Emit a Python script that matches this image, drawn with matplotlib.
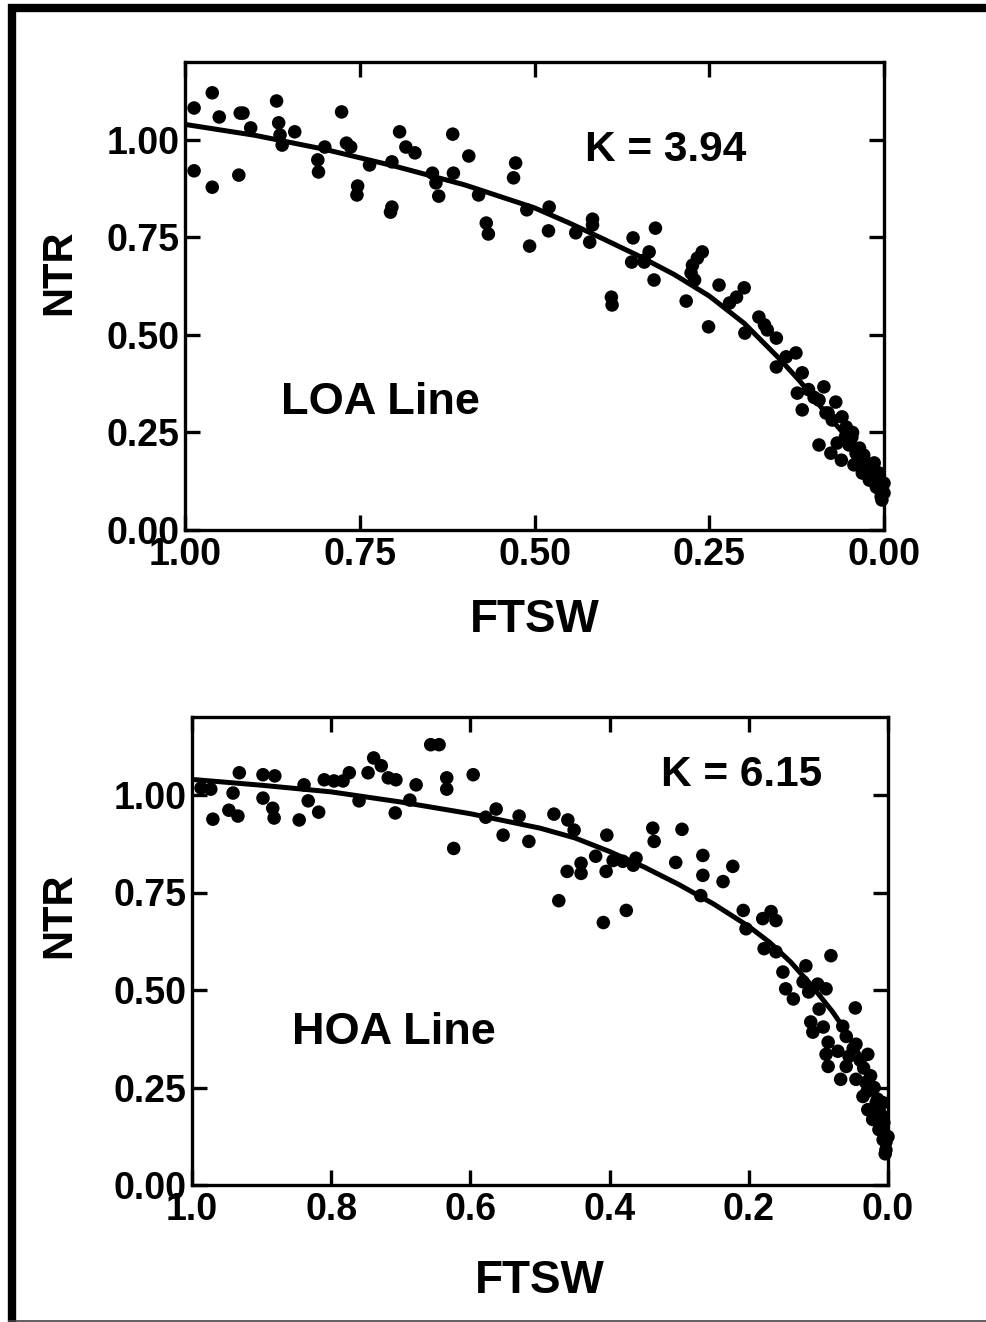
import matplotlib
matplotlib.use("Agg")
import matplotlib.pyplot as plt
from matplotlib.lines import Line2D

plt.rcParams['font.family'] = ['Liberation Sans', 'DejaVu Sans']
plt.rcParams['font.weight'] = 'bold'

# ---------------- data: LOA line (top panel) ----------------
loa_ftsw = [0.987, 0.961, 0.951, 0.921, 0.917, 0.906, 0.869, 0.866, 0.843, 0.864, 0.861,
            0.987, 0.961, 0.923, 0.800, 0.810, 0.809, 0.776, 0.769, 0.763, 0.753, 0.754,
            0.736, 0.704, 0.704, 0.706, 0.693, 0.684, 0.671, 0.617, 0.594, 0.646, 0.641,
            0.637, 0.616, 0.580, 0.569, 0.566, 0.527, 0.530, 0.511, 0.507, 0.479, 0.480,
            0.441, 0.417, 0.417, 0.421, 0.359, 0.361, 0.343, 0.390, 0.389, 0.327, 0.336,
            0.343, 0.329, 0.260, 0.267, 0.274, 0.276, 0.271, 0.283, 0.236, 0.251, 0.200,
            0.211, 0.221, 0.199, 0.179, 0.171, 0.167, 0.154, 0.126, 0.140, 0.154, 0.117,
            0.124, 0.086, 0.117, 0.093, 0.069, 0.083, 0.074, 0.060, 0.093, 0.076, 0.061,
            0.067, 0.054, 0.046, 0.040, 0.036, 0.026, 0.017, 0.007, 0.003, 0.000, 0.004,
            0.011, 0.021, 0.031, 0.017, 0.007, 0.000, 0.003, 0.050, 0.029, 0.014, 0.043,
            0.045, 0.035, 0.030, 0.025, 0.020, 0.015, 0.010, 0.008, 0.005, 0.012, 0.055,
            0.048, 0.038, 0.108, 0.100, 0.080]
loa_ntr = [1.082, 1.121, 1.059, 1.069, 1.069, 1.031, 1.100, 1.044, 1.021, 1.013, 0.987,
           0.921, 0.879, 0.910, 0.982, 0.949, 0.918, 1.072, 0.992, 0.982, 0.882, 0.859,
           0.936, 0.944, 0.828, 0.815, 1.021, 0.982, 0.967, 1.015, 0.959, 0.915, 0.890,
           0.856, 0.915, 0.859, 0.787, 0.759, 0.941, 0.903, 0.821, 0.728, 0.828, 0.767,
           0.762, 0.797, 0.782, 0.738, 0.749, 0.687, 0.692, 0.597, 0.577, 0.774, 0.713,
           0.687, 0.641, 0.713, 0.697, 0.679, 0.659, 0.641, 0.587, 0.628, 0.521, 0.621,
           0.597, 0.582, 0.505, 0.546, 0.526, 0.513, 0.492, 0.454, 0.444, 0.418, 0.403,
           0.351, 0.367, 0.308, 0.333, 0.328, 0.300, 0.282, 0.290, 0.218, 0.197, 0.179,
           0.223, 0.264, 0.238, 0.197, 0.172, 0.154, 0.136, 0.128, 0.110, 0.095, 0.085,
           0.110, 0.128, 0.146, 0.162, 0.146, 0.120, 0.077, 0.218, 0.192, 0.172, 0.167,
           0.250, 0.210, 0.185, 0.170, 0.160, 0.140, 0.130, 0.115, 0.100, 0.150, 0.240,
           0.220, 0.190, 0.360, 0.340, 0.300]
loa_fit_ftsw = [1.00, 0.90, 0.80, 0.70, 0.60, 0.50, 0.45, 0.40, 0.35, 0.30, 0.25,
                0.20, 0.15, 0.12, 0.09, 0.06, 0.04, 0.02, 0.00]
loa_fit_ntr = [1.040, 1.012, 0.976, 0.933, 0.885, 0.826, 0.787, 0.745, 0.702, 0.655,
               0.600, 0.530, 0.440, 0.381, 0.315, 0.252, 0.200, 0.148, 0.095]

# ---------------- data: HOA line (bottom panel) ----------------
hoa_ftsw = [0.987, 0.973, 0.932, 0.941, 0.970, 0.947, 0.934, 0.898, 0.881, 0.898, 0.884,
            0.882, 0.846, 0.839, 0.833, 0.818, 0.810, 0.796, 0.783, 0.774, 0.760, 0.747,
            0.739, 0.728, 0.718, 0.707, 0.708, 0.687, 0.678, 0.657, 0.645, 0.634, 0.634,
            0.596, 0.624, 0.578, 0.563, 0.553, 0.530, 0.516, 0.480, 0.460, 0.451, 0.404,
            0.420, 0.441, 0.461, 0.441, 0.405, 0.395, 0.381, 0.366, 0.362, 0.473, 0.376,
            0.409, 0.338, 0.336, 0.296, 0.266, 0.266, 0.305, 0.237, 0.223, 0.269, 0.208,
            0.180, 0.168, 0.161, 0.204, 0.178, 0.161, 0.082, 0.118, 0.151, 0.122, 0.114,
            0.101, 0.089, 0.147, 0.136, 0.047, 0.099, 0.111, 0.108, 0.093, 0.086, 0.065,
            0.060, 0.046, 0.029, 0.089, 0.086, 0.072, 0.056, 0.060, 0.068, 0.046, 0.032,
            0.036, 0.029, 0.022, 0.013, 0.007, 0.003, 0.013, 0.017, 0.006, 0.000, 0.004,
            0.007, 0.020, 0.015, 0.010, 0.008, 0.005, 0.003, 0.025, 0.035, 0.040, 0.050,
            0.030]
hoa_ntr = [1.018, 1.015, 1.057, 1.005, 0.938, 0.961, 0.946, 1.052, 1.049, 0.992, 0.966,
           0.941, 0.936, 1.026, 0.985, 0.956, 1.039, 1.036, 1.036, 1.057, 0.985, 1.057,
           1.095, 1.075, 1.044, 1.039, 0.954, 0.987, 1.026, 1.129, 1.129, 1.044, 1.015,
           1.052, 0.863, 0.943, 0.964, 0.897, 0.946, 0.881, 0.951, 0.936, 0.910, 0.897,
           0.843, 0.825, 0.804, 0.799, 0.804, 0.832, 0.830, 0.820, 0.838, 0.729, 0.704,
           0.673, 0.915, 0.881, 0.912, 0.845, 0.794, 0.827, 0.778, 0.817, 0.742, 0.704,
           0.683, 0.701, 0.678, 0.657, 0.606, 0.598, 0.588, 0.562, 0.546, 0.521, 0.495,
           0.515, 0.503, 0.503, 0.477, 0.454, 0.451, 0.418, 0.392, 0.405, 0.366, 0.407,
           0.381, 0.361, 0.335, 0.335, 0.304, 0.343, 0.330, 0.304, 0.271, 0.271, 0.263,
           0.227, 0.193, 0.168, 0.142, 0.116, 0.090, 0.193, 0.211, 0.160, 0.124, 0.080,
           0.211, 0.250, 0.220, 0.180, 0.160, 0.130, 0.110, 0.280, 0.300, 0.320, 0.350,
           0.240]
hoa_fit_ftsw = [1.00, 0.90, 0.80, 0.70, 0.60, 0.50, 0.45, 0.40, 0.35, 0.30, 0.25,
                0.20, 0.17, 0.14, 0.11, 0.08, 0.06, 0.04, 0.025, 0.012, 0.004, 0.0]
hoa_fit_ntr = [1.040, 1.025, 1.008, 0.982, 0.952, 0.915, 0.890, 0.855, 0.815, 0.770,
               0.720, 0.663, 0.622, 0.572, 0.512, 0.445, 0.393, 0.330, 0.275, 0.212,
               0.150, 0.085]

yticks = [0.0, 0.25, 0.5, 0.75, 1.0]
ytick_labels = ['0.00', '0.25', '0.50', '0.75', '1.00']
top_xticks = [1.0, 0.75, 0.5, 0.25, 0.0]
top_xtick_labels = ['1.00', '0.75', '0.50', '0.25', '0.00']
bot_xticks = [1.0, 0.8, 0.6, 0.4, 0.2, 0.0]
bot_xtick_labels = ['1.0', '0.8', '0.6', '0.4', '0.2', '0.0']

W, H = 986, 1322
fig = plt.figure(figsize=(W / 100, H / 100), dpi=100)
fig.patch.set_facecolor('white')


def px_axes(l, t, r, b):
    return fig.add_axes([l / W, 1 - b / H, (r - l) / W, (b - t) / H])


def style(ax, xt, xtl, label_text, k_text, k_pos, lab_pos, ylab_x, ylab_y, xlab_y):
    ax.set_xlim(1.0, 0.0)
    ax.set_ylim(0.0, 1.2)
    ax.set_xticks(xt)
    ax.set_xticklabels(xtl)
    ax.set_yticks(yticks)
    ax.set_yticklabels(ytick_labels)
    for s in ax.spines.values():
        s.set_linewidth(2.4)
    ax.tick_params(direction='in', length=11, width=2.4, top=True, right=True,
                   labelsize=27, pad=4)
    ax.tick_params(axis='x', pad=5)
    for t in ax.get_xticklabels() + ax.get_yticklabels():
        t.set_fontweight('bold')
    ax.set_xlabel('FTSW', fontsize=33, fontweight='bold')
    ax.set_ylabel('NTR', fontsize=30, fontweight='bold')
    ax.xaxis.set_label_coords(0.5, xlab_y)
    ax.yaxis.set_label_coords(ylab_x, ylab_y)
    ax.text(k_pos[0], k_pos[1], k_text, fontsize=30.5, fontweight='bold',
            ha='center', va='center')
    ax.text(lab_pos[0], lab_pos[1], label_text, fontsize=32.5, fontweight='bold',
            ha='center', va='center')


ax1 = px_axes(185, 62, 884, 530)
ax1.scatter(loa_ftsw, loa_ntr, s=95, color='black', edgecolors='none', clip_on=False, zorder=3)
ax1.plot(loa_fit_ftsw, loa_fit_ntr, color='black', lw=3.6, zorder=2,
         solid_capstyle='round', solid_joinstyle='round')
style(ax1, top_xticks, top_xtick_labels, 'LOA Line', 'K = 3.94', (0.313, 0.974),
      (0.721, 0.328), -0.152, 0.551, -0.145)

ax2 = px_axes(192, 717, 888, 1185)
ax2.scatter(hoa_ftsw, hoa_ntr, s=95, color='black', edgecolors='none', clip_on=False, zorder=3)
ax2.plot(hoa_fit_ftsw, hoa_fit_ntr, color='black', lw=3.6, zorder=2,
         solid_capstyle='round', solid_joinstyle='round')
style(ax2, bot_xticks, bot_xtick_labels, 'HOA Line', 'K = 6.15', (0.210, 1.052),
      (0.710, 0.392), -0.162, 0.577, -0.158)

# outer frame (thick left and top, thin bottom)
fig.add_artist(Line2D([12 / W, 12 / W], [0, 1 - 4 / H], transform=fig.transFigure,
                      color='black', lw=6, solid_capstyle='butt'))
fig.add_artist(Line2D([8 / W, 1.0], [1 - 8 / H, 1 - 8 / H], transform=fig.transFigure,
                      color='black', lw=6, solid_capstyle='butt'))
fig.add_artist(Line2D([8 / W, 1.0], [1.5 / H, 1.5 / H], transform=fig.transFigure,
                      color='#444444', lw=1.2, solid_capstyle='butt'))

fig.savefig('out.png', dpi=100)
